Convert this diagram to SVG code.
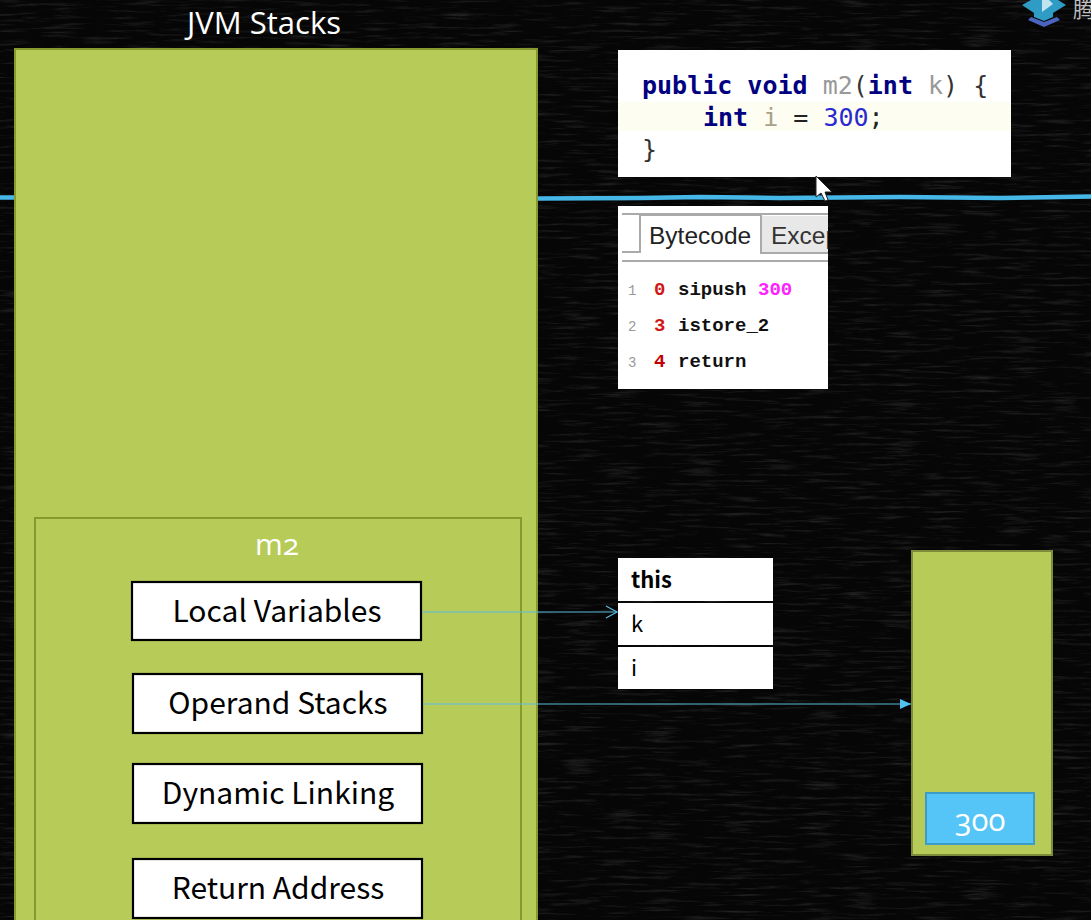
<svg xmlns="http://www.w3.org/2000/svg" width="1091" height="920" viewBox="0 0 1091 920">
<style>
.green{fill:#b7cb58;stroke:#87982f;stroke-width:2}
.box{fill:#fff;stroke:#000;stroke-width:2.200}
.lbl{font-family:"Noto Sans CJK SC","Noto Sans",sans-serif;font-size:30px;fill:#000;text-anchor:middle}
.wt{font-family:"Open Sans","Noto Sans",sans-serif;fill:#fff;text-anchor:middle;font-feature-settings:"onum"}
.code{font-family:"DejaVu Sans Mono",monospace;font-size:25px;white-space:pre}
.kw{font-weight:700;fill:#000080}
.bc{font-family:"Liberation Mono",monospace;font-size:19px;font-weight:700;fill:#111}
.var{font-family:"Noto Sans CJK SC","Noto Sans",sans-serif;font-size:22px;fill:#000}
.conn{stroke:#5bbbdd;stroke-width:1.2;fill:none}
</style>
<defs>
<filter id="chalk" x="0" y="0" width="100%" height="100%">
<feTurbulence type="fractalNoise" baseFrequency="0.025 0.3" numOctaves="5" seed="11"/>
<feColorMatrix type="matrix" values="0 0 0 0 1  0 0 0 0 1  0 0 0 0 1  1.4 0 0 0 -0.72"/>
</filter>
<marker id="open" markerWidth="14" markerHeight="14" refX="12" refY="7" orient="auto" markerUnits="userSpaceOnUse"><path d="M1 1L12 7L1 13" fill="none" stroke="#5bbbdd" stroke-width="1.2"/></marker>
<marker id="solid" markerWidth="12" markerHeight="12" refX="11" refY="6" orient="auto" markerUnits="userSpaceOnUse"><path d="M0 1L11 6L0 11Z" fill="#4fc3f0"/></marker>
</defs>
<g id="background">
<rect width="1091" height="920" fill="#060606"/>
<rect width="1091" height="920" filter="url(#chalk)" opacity="0.2"/>
<path d="M0 197.500H16M538 198.500L640 198L700 197L780 198L900 197L1000 198L1091 196.500" stroke="#45b8e8" stroke-width="4.500" fill="none"/>
</g>
<g id="logo">
<path d="M1031 17L1044 22L1057 17L1060 20L1044 27L1028 20Z" fill="#4a64c0"/>
<path d="M1031 0H1058L1066 5L1053 13V17L1044 21L1034 17V13L1022 5Z" fill="#2e9cc4"/>
<path d="M1042 0H1049L1053 4L1042 12Z" fill="#bfe4f0"/>
<text x="1073" y="17" font-family="'Noto Sans CJK SC',sans-serif" font-size="22" fill="#bdbdbd">腾</text>
</g>
<g id="jvm-stacks">
<rect class="green" x="15" y="49" width="522" height="880"/>
<text class="wt" x="264" y="34" font-size="31">JVM Stacks</text>
</g>
<g id="m2">
<rect class="green" x="35" y="518" width="486" height="420"/>
<text class="wt" x="277" y="555" font-size="30">m2</text>
</g>
<g id="local-variables"><rect class="box" x="132" y="582" width="289" height="58"/><text class="lbl" x="277" y="622">Local Variables</text></g>
<g id="operand-stacks"><rect class="box" x="133" y="674" width="289" height="59"/><text class="lbl" x="278" y="714">Operand Stacks</text></g>
<g id="dynamic-linking"><rect class="box" x="133" y="764" width="289" height="59"/><text class="lbl" x="278" y="804">Dynamic Linking</text></g>
<g id="return-address"><rect class="box" x="133" y="859" width="289" height="59"/><text class="lbl" x="278" y="899">Return Address</text></g>
<g id="code">
<rect x="618" y="50" width="393" height="127" fill="#fff"/>
<rect x="618" y="102" width="393" height="29" fill="#fefdf2"/>
<text class="code" x="642" y="94"><tspan class="kw">public void</tspan><tspan fill="#999"> m2</tspan><tspan fill="#333">(</tspan><tspan class="kw">int</tspan><tspan fill="#999"> k</tspan><tspan fill="#333">) {</tspan></text>
<text class="code" x="642" y="126"><tspan class="kw" x="703">int</tspan><tspan fill="#a8a08a"> i</tspan><tspan fill="#222"> = </tspan><tspan fill="#2a2ad0">300</tspan><tspan fill="#222">;</tspan></text>
<text class="code" x="642" y="158" fill="#333">}</text>
</g>
<g id="cursor"><path d="M816 176V197L821 193L825 201L828 200L825 192L832 192Z" fill="#fff" stroke="#222" stroke-width="1"/></g>
<g id="bytecode">
<rect x="618" y="206" width="210" height="183" fill="#fff"/>
<path d="M622 214H828" stroke="#aaa" stroke-width="2" fill="none"/>
<rect x="761" y="216" width="67" height="37" fill="#e8e8e8"/>
<path d="M622 252H640V215H761V253H828" stroke="#aaa" stroke-width="2" fill="none"/>
<path d="M622 261H828" stroke="#aaa" stroke-width="2" fill="none"/>
<svg x="618" y="206" width="210" height="60" viewBox="618 206 210 60"><text x="649" y="244" font-family="'Liberation Sans',sans-serif" font-size="24.500" fill="#222">Bytecode</text><text x="771" y="244" font-family="'Liberation Sans',sans-serif" font-size="24.500" fill="#333">Excep</text></svg>
<g font-family="'Liberation Mono',monospace" font-size="14" fill="#999"><text x="628" y="295">1</text><text x="628" y="331">2</text><text x="628" y="367">3</text></g>
<g class="bc"><text x="654" y="295" style="fill:#d01818">0</text><text x="678" y="295">sipush</text><text x="758" y="295" style="fill:#ff22ff">300</text>
<text x="654" y="331" style="fill:#d01818">3</text><text x="678" y="331">istore_2</text>
<text x="654" y="367" style="fill:#c00000">4</text><text x="678" y="367">return</text></g>
</g>
<g id="locals-table">
<rect x="618" y="558" width="155" height="43" fill="#fff"/>
<rect x="618" y="603" width="155" height="42" fill="#fff"/>
<rect x="618" y="647" width="155" height="42" fill="#fff"/>
<text class="var" x="631" y="588" font-weight="700">this</text>
<text class="var" x="631" y="632">k</text>
<text class="var" x="631" y="676">i</text>
</g>
<g id="operand-stack">
<rect class="green" x="912" y="551" width="140" height="304" style="stroke:#7d8b3c"/>
</g>
<g id="value-300">
<rect x="926" y="793" width="108" height="51" fill="#55c5f7" stroke="#3d9cc6" stroke-width="2"/>
<text class="wt" x="980" y="831" font-size="31">300</text>
</g>
<g id="connectors">
<path class="conn" d="M422 612H617" marker-end="url(#open)"/>
<path class="conn" d="M423 704H911" marker-end="url(#solid)"/>
</g>
</svg>
